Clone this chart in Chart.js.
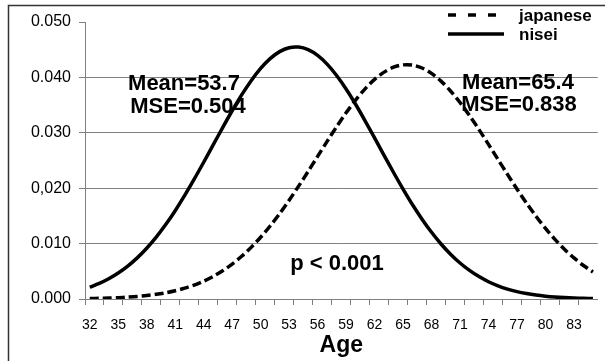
<!DOCTYPE html>
<html>
<head>
<meta charset="utf-8">
<script src="https://cdn.jsdelivr.net/npm/chart.js@4.4.1/dist/chart.umd.min.js"></script>
<style>
  html, body { margin: 0; padding: 0; background: #fff; }
  #wrap { width: 605px; height: 361px; position: relative; }
</style>
</head>
<body>
<div id="wrap"><canvas id="chart" width="605" height="361"></canvas></div>
<script>
const ages = [32, 33, 34, 35, 36, 37, 38, 39, 40, 41, 42, 43, 44, 45, 46, 47, 48, 49,
  50, 51, 52, 53, 54, 55, 56, 57, 58, 59, 60, 61, 62, 63, 64, 65, 66, 67,
  68, 69, 70, 71, 72, 73, 74, 75, 76, 77, 78, 79, 80, 81, 82, 83, 84, 85];

const japanese = [0.00008, 0.00012, 0.00017, 0.00023, 0.00033, 0.00045, 0.00062, 0.00084,
  0.00112, 0.00149, 0.00195, 0.00252, 0.00322, 0.00407, 0.0051, 0.0063, 0.00771, 0.00932,
  0.01115, 0.01318, 0.01541, 0.01782, 0.02037, 0.02302, 0.02574, 0.02845, 0.03109, 0.0336,
  0.0359, 0.03794, 0.03964, 0.04095, 0.04184, 0.04226, 0.04222, 0.0417, 0.04072, 0.03933,
  0.03755, 0.03546, 0.03311, 0.03057, 0.02791, 0.02519, 0.02249, 0.01985, 0.01732, 0.01495,
  0.01276, 0.01077, 0.00898, 0.00741, 0.00605, 0.00488];

const nisei = [0.00213, 0.00281, 0.00365, 0.00468, 0.00593, 0.00742, 0.00916, 0.01117,
  0.01343, 0.01594, 0.01869, 0.02162, 0.02468, 0.02781, 0.03094, 0.03398, 0.03684, 0.03941,
  0.04162, 0.04339, 0.04465, 0.04536, 0.04547, 0.045, 0.04396, 0.04239, 0.04034, 0.03791,
  0.03515, 0.03217, 0.02907, 0.02593, 0.02283, 0.01984, 0.01701, 0.01441, 0.01204, 0.00993,
  0.00809, 0.0065, 0.00516, 0.00404, 0.00312, 0.00238, 0.00179, 0.00133, 0.00098, 0.00071,
  0.00051, 0.00036, 0.00025, 0.00017, 0.00012, 0.00008];

const yTickLabels = ['0.000', '0.010', '0,020', '0.030', '0.040', '0.050'];
const seriesNames = ['japanese', 'nisei'];
const noteLeft = ['Mean=53.7', 'MSE=0.504'];
const noteRight = ['Mean=65.4', 'MSE=0.838'];
const noteP = 'p < 0.001';

const FONT = 'Arial, "Liberation Sans", sans-serif';
const GRAY = '#808080';

// outer frame, legend and the free text
const extras = {
  id: 'extras',
  beforeDraw(chart) {
    const ctx = chart.ctx;
    ctx.save();
    ctx.fillStyle = '#fff';
    ctx.fillRect(0, 0, chart.width, chart.height);
    ctx.strokeStyle = '#333';
    ctx.lineWidth = 1.5;
    ctx.beginPath();
    ctx.moveTo(8.5, chart.height);
    ctx.lineTo(8.5, 5.5);
    ctx.lineTo(chart.width, 5.5);
    ctx.stroke();
    ctx.restore();
  },
  afterDraw(chart) {
    const ctx = chart.ctx;
    ctx.save();
    ctx.fillStyle = '#000';
    ctx.textBaseline = 'alphabetic';

    // notes
    ctx.font = 'bold 22px ' + FONT;
    ctx.textAlign = 'center';
    ctx.fillText(noteLeft[0], 184, 90);
    ctx.fillText(noteLeft[1], 188, 113);
    ctx.fillText(noteRight[0], 518, 89);
    ctx.fillText(noteRight[1], 519, 111);
    ctx.fillText(noteP, 337, 270);

    // legend
    const rows = [15, 34];
    chart.data.datasets.forEach((ds, i) => {
      const y = rows[i];
      ctx.strokeStyle = ds.borderColor;
      ctx.lineWidth = ds.borderWidth;
      ctx.setLineDash(ds.borderDash && ds.borderDash.length ? [8, 12] : []);
      ctx.beginPath();
      ctx.moveTo(448, y);
      ctx.lineTo(504, y);
      ctx.stroke();
      ctx.setLineDash([]);
      ctx.font = 'bold 17px ' + FONT;
      ctx.textAlign = 'left';
      ctx.textBaseline = 'middle';
      ctx.fillText(seriesNames[i], 519, y + 1);
    });
    ctx.restore();
  }
};

new Chart(document.getElementById('chart'), {
  type: 'line',
  data: {
    labels: ages,
    datasets: [
      {
        label: seriesNames[0],
        data: japanese,
        borderColor: '#000',
        borderWidth: 3.5,
        borderDash: [9, 4],
        pointRadius: 0,
        tension: 0.3,
        fill: false
      },
      {
        label: seriesNames[1],
        data: nisei,
        borderColor: '#000',
        borderWidth: 3.5,
        pointRadius: 0,
        tension: 0.3,
        fill: false
      }
    ]
  },
  options: {
    responsive: false,
    animation: false,
    layout: { padding: { top: 22, right: 7, left: 0, bottom: 0 } },
    plugins: {
      legend: { display: false },
      tooltip: { enabled: false }
    },
    scales: {
      x: {
        type: 'category',
        offset: true,
        grid: {
          offset: true,
          drawOnChartArea: false,
          tickLength: 6,
          color: (c) => (c.index % 2 === 0 ? GRAY : 'rgba(0,0,0,0)')
        },
        border: { color: GRAY },
        ticks: {
          autoSkip: false,
          maxRotation: 0,
          minRotation: 0,
          padding: 12,
          color: '#000',
          font: { family: FONT, size: 14 },
          callback: (v, i) => (i % 3 === 0 ? ages[i] : '')
        },
        title: {
          display: true,
          text: 'Age',
          color: '#000',
          font: { family: FONT, size: 23, weight: 'bold', lineHeight: 1 },
          padding: { top: 0, bottom: 4 }
        },
        afterFit: (s) => { s.height = 62; }
      },
      y: {
        min: 0,
        max: 0.05,
        grid: {
          tickLength: 6,
          color: (c) => (c.tick && c.tick.value > 0.0499 ? 'rgba(0,0,0,0)' : GRAY),
          tickColor: GRAY
        },
        border: { color: GRAY },
        ticks: {
          stepSize: 0.01,
          padding: 8,
          color: '#000',
          font: { family: FONT, size: 16 },
          callback: (v, i) => yTickLabels[i]
        },
        afterFit: (s) => { s.width = 85; }
      }
    }
  },
  plugins: [extras]
});
</script>
</body>
</html>
